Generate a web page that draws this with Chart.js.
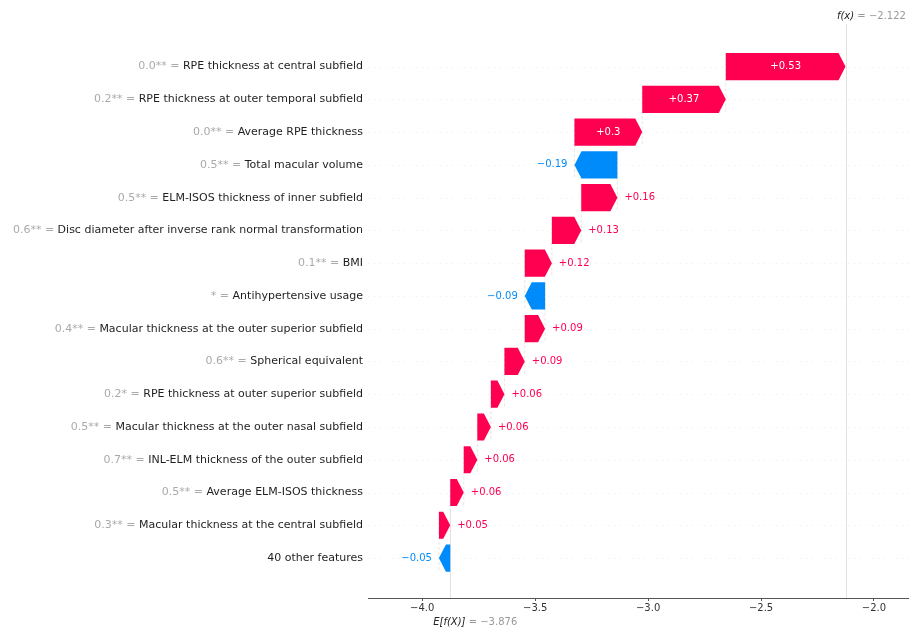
<!DOCTYPE html>
<html>
<head>
<meta charset="utf-8">
<script src="https://cdn.jsdelivr.net/npm/chart.js@4/dist/chart.umd.min.js"></script>
<style>
  html, body { margin: 0; padding: 0; background: #fff; }
  #wrap { width: 909px; height: 632px; }
</style>
</head>
<body>
<div id="wrap"><canvas id="shapChart"></canvas></div>
<script>
const features = [
  'RPE thickness at central subfield',
  'RPE thickness at outer temporal subfield',
  'Average RPE thickness',
  'Total macular volume',
  'ELM-ISOS thickness of inner subfield',
  'Disc diameter after inverse rank normal transformation',
  'BMI',
  'Antihypertensive usage',
  'Macular thickness at the outer superior subfield',
  'Spherical equivalent',
  'RPE thickness at outer superior subfield',
  'Macular thickness at the outer nasal subfield',
  'INL-ELM thickness of the outer subfield',
  'Average ELM-ISOS thickness',
  'Macular thickness at the central subfield',
  '40 other features'
];
const featureValues = [
  '0.0**', '0.2**', '0.0**', '0.5**', '0.5**', '0.6**', '0.1**', '*',
  '0.4**', '0.6**', '0.2*', '0.5**', '0.7**', '0.5**', '0.3**', ''
];
const shapValues = [
  0.53, 0.37, 0.3, -0.19, 0.16, 0.13, 0.12, -0.09,
  0.09, 0.09, 0.06, 0.06, 0.06, 0.06, 0.05, -0.05
];
const baseValue = -3.876;
const outputValue = -2.122;
const xTicks = [-4.0, -3.5, -3.0, -2.5, -2.0];

const RED = '#ff0051';
const BLUE = '#008bfb';
const FONT = '"DejaVu Sans", sans-serif';

// running total, bottom row starts at the base value
const starts = new Array(shapValues.length);
let acc = baseValue;
for (let i = shapValues.length - 1; i >= 0; i--) {
  starts[i] = acc;
  acc += shapValues[i];
}
const bars = shapValues.map((v, i) => ({ x: [starts[i], starts[i] + v], y: i }));

const minus = '\u2212';
const fmtTick = v => (v < 0 ? minus : '') + Math.abs(v).toFixed(1);
const fmtShap = v => (v > 0 ? '+' : minus) + Math.abs(v);

function drawArrow(ctx, x0, x1, yc, h, tip) {
  const dir = x1 >= x0 ? 1 : -1;
  const t = Math.min(tip, Math.abs(x1 - x0));
  const xb = x1 - dir * t;
  ctx.beginPath();
  ctx.moveTo(x0, yc - h / 2);
  ctx.lineTo(xb, yc - h / 2);
  ctx.lineTo(x1, yc);
  ctx.lineTo(xb, yc + h / 2);
  ctx.lineTo(x0, yc + h / 2);
  ctx.closePath();
  ctx.fill();
}

const waterfall = {
  id: 'waterfall',
  beforeDatasetsDraw(chart) {
    const { ctx, chartArea: ca, scales: { x, y } } = chart;
    const rowH = Math.abs(y.getPixelForValue(1) - y.getPixelForValue(0));
    ctx.save();
    // dotted row guides
    ctx.strokeStyle = 'rgba(204,204,204,0.6)';
    ctx.lineWidth = 0.6;
    ctx.setLineDash([1, 5]);
    features.forEach((f, i) => {
      const py = Math.round(y.getPixelForValue(i)) + 0.5;
      ctx.beginPath();
      ctx.moveTo(ca.left, py);
      ctx.lineTo(ca.right, py);
      ctx.stroke();
    });
    // connectors between consecutive bars
    ctx.strokeStyle = '#d4d4d4';
    ctx.setLineDash([3, 2]);
    for (let i = 0; i < shapValues.length - 1; i++) {
      const px = x.getPixelForValue(starts[i]);
      ctx.beginPath();
      ctx.moveTo(px, y.getPixelForValue(i) - 0.4 * rowH);
      ctx.lineTo(px, y.getPixelForValue(i + 1) + 0.4 * rowH);
      ctx.stroke();
    }
    // f(x) and E[f(X)] markers
    ctx.setLineDash([]);
    ctx.strokeStyle = '#e2e2e2';
    ctx.lineWidth = 1;
    const fx = Math.round(x.getPixelForValue(outputValue)) + 0.5;
    ctx.beginPath();
    ctx.moveTo(fx, ca.top);
    ctx.lineTo(fx, ca.bottom);
    ctx.stroke();
    const ex = Math.round(x.getPixelForValue(baseValue)) + 0.5;
    ctx.beginPath();
    ctx.moveTo(ex, y.getPixelForValue(13.5));
    ctx.lineTo(ex, ca.bottom);
    ctx.stroke();
    ctx.restore();
  },
  afterDatasetsDraw(chart) {
    const { ctx, scales: { x, y } } = chart;
    const rowH = Math.abs(y.getPixelForValue(1) - y.getPixelForValue(0));
    const h = rowH * 0.83;
    const meta = chart.getDatasetMeta(0);
    ctx.save();
    ctx.font = '10px ' + FONT;
    ctx.textBaseline = 'middle';
    meta.data.forEach((el, i) => {
      const v = shapValues[i];
      const x0 = x.getPixelForValue(bars[i].x[0]);
      const x1 = x.getPixelForValue(bars[i].x[1]);
      const yc = el.y;
      const col = v > 0 ? RED : BLUE;
      ctx.fillStyle = col;
      drawArrow(ctx, x0, x1, yc, h, 7);
      const label = fmtShap(v);
      const tw = ctx.measureText(label).width;
      if (Math.abs(x1 - x0) > tw + 16) {
        ctx.fillStyle = '#ffffff';
        ctx.textAlign = 'center';
        ctx.fillText(label, (x0 + x1) / 2, yc);
      } else if (v > 0) {
        ctx.fillStyle = col;
        ctx.textAlign = 'left';
        ctx.fillText(label, x1 + 7, yc);
      } else {
        ctx.fillStyle = col;
        ctx.textAlign = 'right';
        ctx.fillText(label, x1 - 7, yc);
      }
    });
    ctx.restore();
  },
  afterDraw(chart) {
    const { ctx, chartArea: ca, scales: { x, y } } = chart;
    ctx.save();
    ctx.textBaseline = 'middle';
    // feature labels: gray value prefix + dark name
    features.forEach((name, i) => {
      const py = y.getPixelForValue(i);
      const right = ca.left - 5;
      ctx.font = '11px ' + FONT;
      ctx.textAlign = 'right';
      ctx.fillStyle = '#1f1f1f';
      ctx.fillText(name, right, py);
      if (featureValues[i]) {
        const nw = ctx.measureText(name).width;
        ctx.fillStyle = '#aaaaaa';
        ctx.fillText(featureValues[i] + ' = ', right - nw, py);
      }
    });
    // f(x) on top, E[f(X)] under the axis
    const pair = (lead, rest, cx, py) => {
      ctx.textAlign = 'left';
      ctx.font = 'italic 10px ' + FONT;
      const w1 = ctx.measureText(lead).width;
      ctx.font = '10px ' + FONT;
      const w2 = ctx.measureText(rest).width;
      const left = cx - (w1 + w2) / 2;
      ctx.font = 'italic 10px ' + FONT;
      ctx.fillStyle = '#222222';
      ctx.fillText(lead, left, py);
      ctx.font = '10px ' + FONT;
      ctx.fillStyle = '#999999';
      ctx.fillText(rest, left + w1, py);
    };
    pair('f(x)', ' = ' + minus + Math.abs(outputValue).toFixed(3), x.getPixelForValue(outputValue) + 25, 16);
    pair('E[f(X)]', ' = ' + minus + Math.abs(baseValue).toFixed(3), x.getPixelForValue(baseValue) + 25, 622);
    ctx.restore();
  }
};

new Chart(document.getElementById('shapChart'), {
  type: 'bar',
  data: {
    datasets: [{
      data: bars,
      backgroundColor: 'rgba(0,0,0,0)',
      borderWidth: 0,
      barPercentage: 0.83,
      categoryPercentage: 1
    }]
  },
  options: {
    indexAxis: 'y',
    responsive: true,
    maintainAspectRatio: false,
    animation: false,
    layout: { padding: { left: 368, right: 0, top: 24, bottom: 14 } },
    plugins: {
      legend: { display: false },
      tooltip: { enabled: false }
    },
    scales: {
      x: {
        type: 'linear',
        min: -4.24,
        max: -1.845,
        afterBuildTicks: s => { s.ticks = xTicks.map(v => ({ value: v })); },
        afterFit: s => { s.height = 20; },
        grid: { drawOnChartArea: false, drawTicks: true, tickLength: 3, color: '#555555' },
        border: { color: '#555555', width: 1 },
        ticks: {
          padding: 1,
          color: '#333333',
          font: { family: FONT, size: 10 },
          callback: v => fmtTick(v)
        }
      },
      y: {
        type: 'linear',
        reverse: true,
        offset: false,
        min: -1.3,
        max: 16.22,
        display: false
      }
    }
  },
  plugins: [waterfall]
});
</script>
</body>
</html>
